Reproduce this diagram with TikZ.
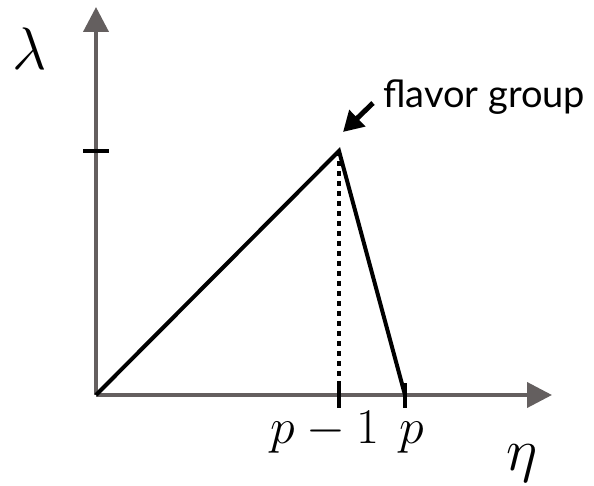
\documentclass[tikz,border=0pt]{standalone}
\usepackage{amsmath}
\usepackage{graphicx}
\usepackage{fontspec}
\usepackage{xcolor}
\usepackage{tikz}
\usetikzlibrary{arrows.meta}
\newfontfamily\flavorfont{Lato}
\definecolor{axisgray}{RGB}{100,95,95}
\newcommand{\biglab}[1]{\scalebox{2.41}{\Huge$#1$}}
\newcommand{\ticklab}[1]{\scalebox{2.01}{\Huge$#1$}}

\begin{document}
\begin{tikzpicture}[x=1pt, y=-1pt]
\useasboundingbox (0,0) rectangle (594,486);
\tikzset{
  axis/.style={axisgray, line width=4pt, -{Triangle[width=25pt, length=25pt]}},
  graphline/.style={black, line width=4pt},
  tickmark/.style={black, line width=4pt},
  labelnode/.style={inner sep=0pt, anchor=base}
}
% axes
\coordinate (O) at (96,395);
\coordinate (ytop) at (96,7);
\coordinate (xend) at (552,395);
\draw[axis] (O) -- (ytop);
\draw[axis] (O) -- (xend);
% ticks
\coordinate (peak) at (339,151);
\coordinate (ytickL) at (83,151);
\coordinate (ytickR) at (109,151);
\coordinate (pmoneT) at (339,383);
\coordinate (pmoneB) at (339,408);
\coordinate (pT) at (405,383);
\coordinate (pB) at (405,408);
\coordinate (pfoot) at (405,395);
\draw[tickmark] (ytickL) -- (ytickR);
\draw[tickmark] (pmoneT) -- (pmoneB);
\draw[tickmark] (pT) -- (pB);
% the triangle
\draw[graphline] (O) -- (peak) -- (pfoot);
\draw[black, line width=4pt, dash pattern=on 5pt off 5pt] (peak) -- (pmoneT);
% labels
\node[labelnode] (lam) at (30,70) {\biglab{\lambda}};
\node[labelnode] (eta) at (522,470) {\biglab{\eta}};
\node[labelnode] (pmone) at (325,443) {\ticklab{p-1}};
\node[labelnode] (plab) at (412,443) {\ticklab{p}};
\node[anchor=base west, inner sep=0pt, font=\flavorfont\fontsize{38}{38}\selectfont] (flavor) at (383,108) {flavor group};
\coordinate (arrtail) at (373,103);
\coordinate (arrtip) at (343,132);
\draw[black, line width=5pt, -{Triangle[width=22pt, length=20pt]}] (arrtail) -- (arrtip);
\end{tikzpicture}
\end{document}
